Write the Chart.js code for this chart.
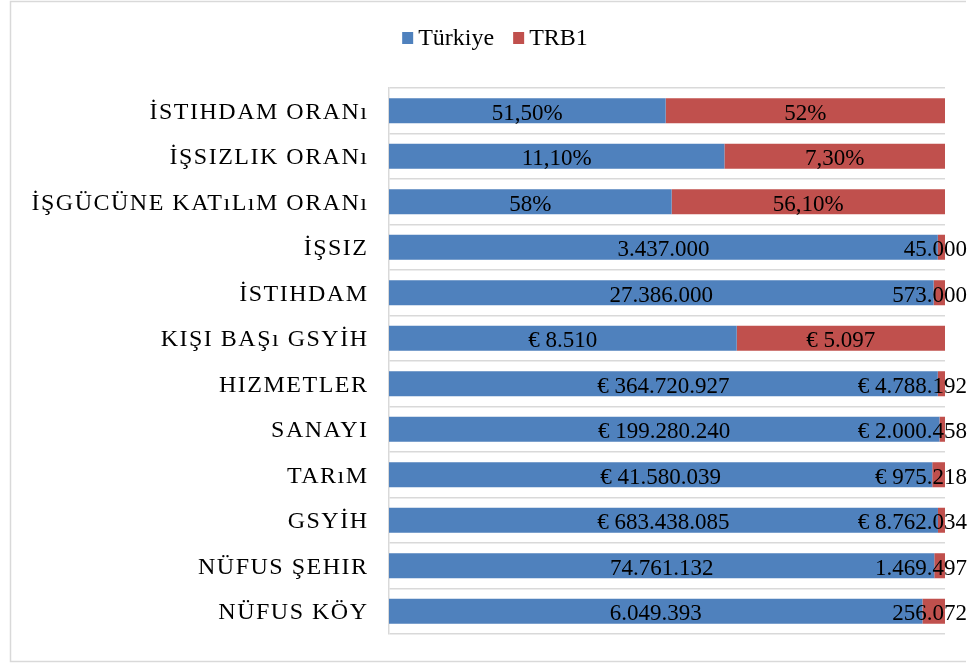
<!DOCTYPE html>
<html>
<head>
<meta charset="utf-8">
<script src="https://cdn.jsdelivr.net/npm/chart.js@4.4.0/dist/chart.umd.min.js"></script>
<style>
  html, body { margin: 0; padding: 0; background: #fff; overflow: hidden; }
  #wrap { width: 969px; height: 663px; }
</style>
</head>
<body>
<div id="wrap"><canvas id="chart" width="969" height="663"></canvas></div>
<script>
// Kategoriler (yukarıdan aşağıya)
const categories = [
    'İSTIHDAM ORANı', 'İŞSIZLIK ORANı', 'İŞGÜCÜNE KATıLıM ORANı', 'İŞSIZ', 'İSTIHDAM',
    'KIŞI BAŞı GSYİH', 'HIZMETLER', 'SANAYI', 'TARıM', 'GSYİH', 'NÜFUS ŞEHIR', 'NÜFUS KÖY'
];
const turkiye = [51.5, 11.1, 58, 3437000, 27386000, 8510, 364720927, 199280240, 41580039, 683438085, 74761132, 6049393];
const trb1 = [52, 7.3, 56.1, 45000, 573000, 5097, 4788192, 2000458, 975218, 8762034, 1469497, 256072];
const units = ['%', '%', '%', '', '', '€', '€', '€', '€', '€', '', ''];
const seriesNames = ['Türkiye', 'TRB1'];
const seriesColors = ['#4F81BD', '#C0504D'];

// %100 yığılmış çubuk: her satırın payı
const share = (a, b) => a.map((v, i) => v / (v + b[i]));
const raw = [turkiye, trb1];

function fmt(v, unit) {
    if (unit === '%') {
        const s = Number.isInteger(v) ? String(v) : v.toFixed(2).replace('.', ',');
        return s + '%';
    }
    const s = String(Math.round(v)).replace(/\B(?=(\d{3})+(?!\d))/g, '.');
    return unit === '€' ? '€ ' + s : s;
}

const SERIF = '"Liberation Serif", "Times New Roman", serif';

const framePlugin = {
    id: 'frame',
    beforeDraw(chart) {
        const ctx = chart.ctx;
        ctx.save();
        ctx.strokeStyle = '#D9D9D9';
        ctx.lineWidth = 1.5;
        ctx.beginPath();
        ctx.moveTo(966, 1.5);
        ctx.lineTo(10.5, 1.5);
        ctx.lineTo(10.5, 661.5);
        ctx.lineTo(966, 661.5);
        ctx.stroke();
        ctx.restore();
    }
};

const labelsPlugin = {
    id: 'labels',
    afterDatasetsDraw(chart) {
        const ctx = chart.ctx;
        ctx.save();
        ctx.font = '23px ' + SERIF;
        ctx.fillStyle = '#000';
        ctx.textAlign = 'center';
        ctx.textBaseline = 'alphabetic';
        chart.data.datasets.forEach((ds, d) => {
            chart.getDatasetMeta(d).data.forEach((bar, i) => {
                const txt = fmt(raw[d][i], units[i]);
                const w = ctx.measureText(txt).width;
                let cx = (bar.x + bar.base) / 2;
                if (cx + w / 2 > 967) cx = 967 - w / 2;
                ctx.fillText(txt, cx, bar.y + 9);
            });
        });
        ctx.restore();
    },
    afterDraw(chart) {
        const ctx = chart.ctx;
        const yScale = chart.scales.y;
        // kategori yazıları
        ctx.save();
        ctx.font = '24px ' + SERIF;
        ctx.fillStyle = '#000';
        ctx.textAlign = 'right';
        ctx.textBaseline = 'alphabetic';
        ctx.letterSpacing = '1.5px';
        categories.forEach((c, i) => {
            ctx.fillText(c, 368.5, yScale.getPixelForValue(i) + 8);
        });
        ctx.restore();

        // gösterge
        ctx.save();
        ctx.font = '24px ' + SERIF;
        ctx.textBaseline = 'alphabetic';
        const box = 11, gapText = 5, gapItem = 19;
        const widths = seriesNames.map(n => ctx.measureText(n).width);
        const total = widths.reduce((s, w) => s + box + gapText + w, 0) + gapItem * (seriesNames.length - 1);
        let x = 495 - total / 2;
        seriesNames.forEach((n, k) => {
            ctx.fillStyle = seriesColors[k];
            ctx.fillRect(x, 32, box, 12);
            x += box + gapText;
            ctx.fillStyle = '#000';
            ctx.fillText(n, x, 45);
            x += widths[k] + gapItem;
        });
        ctx.restore();
    }
};

new Chart(document.getElementById('chart').getContext('2d'), {
    type: 'bar',
    data: {
        labels: categories,
        datasets: [{
            label: seriesNames[0],
            data: share(turkiye, trb1),
            backgroundColor: seriesColors[0]
        }, {
            label: seriesNames[1],
            data: share(trb1, turkiye),
            backgroundColor: seriesColors[1]
        }]
    },
    options: {
        indexAxis: 'y',
        responsive: false,
        animation: false,
        layout: { padding: { left: 0, right: 24, top: 88, bottom: 29 } },
        datasets: { bar: { barPercentage: 0.55, categoryPercentage: 1 } },
        plugins: {
            legend: { display: false },
            tooltip: { enabled: false }
        },
        scales: {
            x: { stacked: true, min: 0, max: 1, display: false },
            y: {
                stacked: true,
                ticks: { display: false },
                grid: { offset: true, color: '#D9D9D9', lineWidth: 1.5, drawTicks: false },
                border: { color: '#D9D9D9', width: 1.5 },
                afterFit(scale) { scale.width = 389; }
            }
        }
    },
    plugins: [framePlugin, labelsPlugin]
});
</script>
</body>
</html>
